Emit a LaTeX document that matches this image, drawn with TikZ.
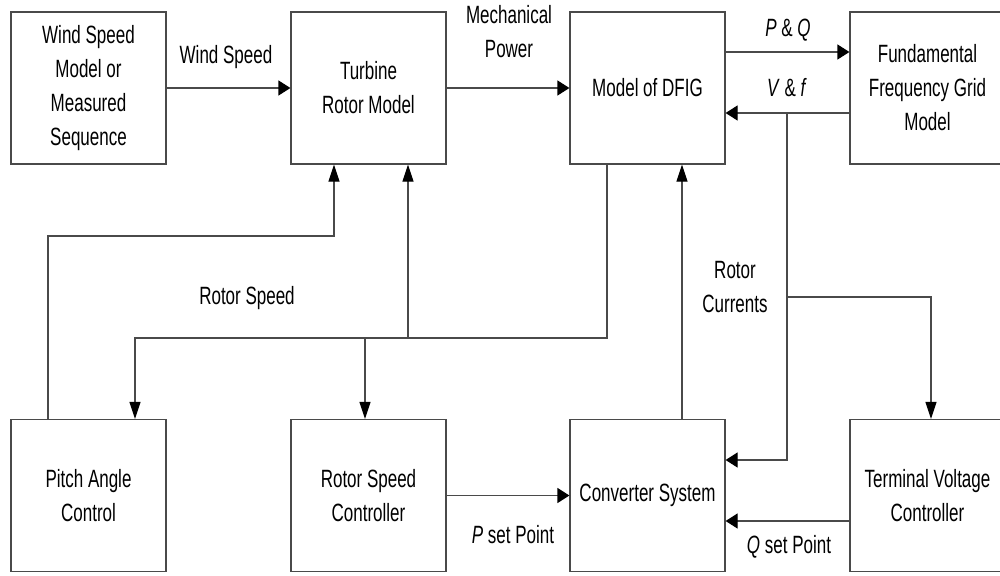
\documentclass[tikz,border=0pt]{standalone}
\usepackage{fontspec}
\setmainfont{Liberation Sans}[FakeStretch=0.68]
\usetikzlibrary{arrows.meta}
\definecolor{linegray}{HTML}{4A4A4A}
\newcommand\dgfont{\fontsize{25}{34}\selectfont}
\begin{document}
\begin{tikzpicture}[x=1pt,y=-1pt,
  box/.style={draw=linegray, line width=1.2pt, minimum width=155pt, minimum height=152pt,
    align=center, inner sep=0pt, font=\dgfont},
  lbl/.style={align=center, inner sep=0pt, font=\dgfont},
  conn/.style={draw=linegray, line width=1.2pt},
  harr/.style={conn, -{Triangle[length=12pt,width=15pt,color=black,fill=black]}},
  varr/.style={conn, -{Triangle[length=17pt,width=11pt,color=black,fill=black]}}]
\useasboundingbox (0,0) rectangle (1000,575);
% boxes
\node[box] (ws) at (88.5,88) {Wind Speed\\Model or\\Measured\\Sequence};
\node[box] (tr) at (368.5,88) {Turbine\\Rotor Model};
\node[box] (dfig) at (647.5,88) {Model of DFIG};
\node[box] (grid) at (927.5,88) {Fundamental\\Frequency Grid\\Model};
\node[box] (pitch) at (88.5,495.5) {Pitch Angle\\Control};
\node[box] (rsc) at (368.5,495.5) {Rotor Speed\\Controller};
\node[box] (conv) at (647.5,495.5) {Converter System};
\node[box] (tvc) at (927.5,495.5) {Terminal Voltage\\Controller};
% labels
\node[lbl] (lws) at (226,57) {Wind Speed};
\node[lbl] (lmp) at (509,32) {Mechanical\\Power};
\node[lbl] (lpq) at (788,30) {\textit{P} \& \textit{Q}};
\node[lbl] (lvf) at (787,88) {\textit{V} \& \textit{f}};
\node[lbl] (lrs) at (247,298) {Rotor Speed};
\node[lbl] (lrc) at (735,287) {Rotor\\Currents};
\node[lbl] (lpsp) at (513,535) {\textit{P} set Point};
\node[lbl] (lqsp) at (789,547) {\textit{Q} set Point};
% coordinates
\coordinate (vf) at (787,113);
\coordinate (rc) at (787,297);
\coordinate (bus) at (0,338);
\coordinate (pbus) at (0,236);
\coordinate (pa) at ([xshift=46.5pt]pitch.north);
\coordinate (pt) at ([xshift=-40.5pt]pitch.north);
\coordinate (rb) at ([xshift=-3.5pt]rsc.north);
\coordinate (tb) at ([xshift=39.5pt]tr.south);
\coordinate (ta) at ([xshift=-34.5pt]tr.south);
% connectors
\draw[harr] (ws) -- (tr);
\draw[harr] (tr) -- (dfig);
\draw[harr] ([yshift=36pt]dfig.east) -- ([yshift=36pt]grid.west);
\draw[harr] ([yshift=-25pt]grid.west) -- ([yshift=-25pt]dfig.east);
\draw[harr] (vf) |- ([yshift=35.5pt]conv.east);
\draw[varr] (rc) -| ([xshift=3.5pt]tvc.north);
\draw[varr] ([xshift=34.5pt]conv.north) -- ([xshift=34.5pt]dfig.south);
\draw[varr] ([xshift=-40.5pt]dfig.south) |- (bus -| pa) -- (pa);
\draw[varr] (bus -| rb) -- (rb);
\draw[varr] (bus -| tb) -- (tb);
\draw[varr] (pt) -- (pt |- pbus) -| (ta);
\draw[harr] (rsc) -- (conv);
\draw[harr] ([yshift=-25.5pt]tvc.west) -- ([yshift=-25.5pt]conv.east);
\end{tikzpicture}
\end{document}
